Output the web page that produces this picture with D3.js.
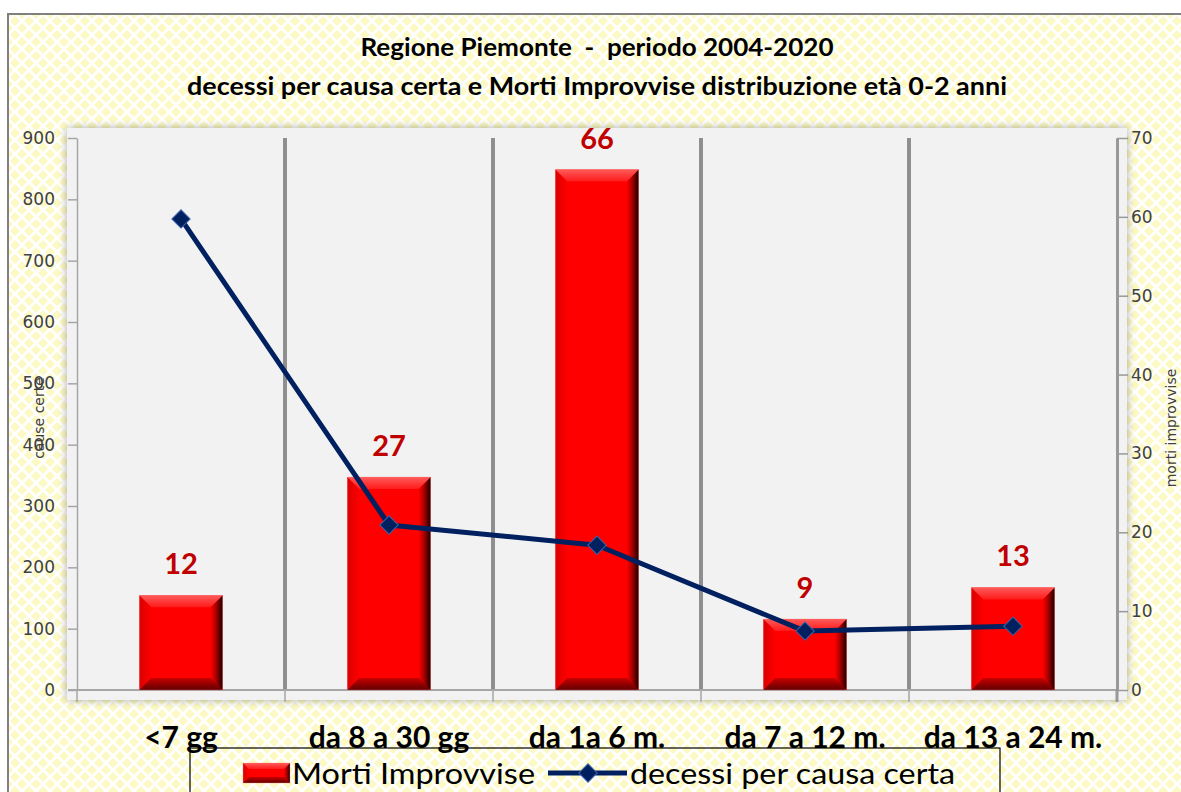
<!DOCTYPE html>
<html>
<head>
<meta charset="utf-8">
<script src="https://cdn.jsdelivr.net/npm/d3@7"></script>
<style>
  body { margin: 0; background: #fff; }
  svg { display: block; }
</style>
</head>
<body>
<svg id="chart" width="1181" height="792"></svg>
<script>
// chart data
const categories = ["<7 gg", "da 8 a 30 gg", "da 1a 6 m.", "da 7 a 12 m.", "da 13 a 24 m."];
const mortiImprovvise = [12, 27, 66, 9, 13];        // bars, right axis
const causaCerta = [768, 269, 236, 96, 104];        // line, left axis
const leftTicks = [0, 100, 200, 300, 400, 500, 600, 700, 800, 900];
const rightTicks = [0, 10, 20, 30, 40, 50, 60, 70];
const titleLines = ["Regione Piemonte  -  periodo 2004-2020",
                    "decessi per causa certa e Morti Improvvise distribuzione età 0-2 anni"];

// measured text widths of the reference (Calibri is narrower than what we have)
const titleWidths = [473, 820];

const svg = d3.select("#chart");
const defs = svg.append("defs");

// yellow diamond background pattern
const pat = defs.append("pattern").attr("id", "dia")
    .attr("width", 14).attr("height", 14)
    .attr("patternUnits", "userSpaceOnUse")
    .attr("x", 8).attr("y", 14);
pat.append("rect").attr("width", 14).attr("height", 14).attr("fill", "#fff");
[[7, 7], [0, 0], [14, 0], [0, 14], [14, 14]].forEach(([cx, cy]) => {
    const r = 5;
    pat.append("polygon")
        .attr("points", `${cx},${cy - r} ${cx + r},${cy} ${cx},${cy + r} ${cx - r},${cy}`)
        .attr("fill", "#fcf9c4");
});

// shadow for the plot area
const shadow = defs.append("filter").attr("id", "shadow")
    .attr("x", "-5%").attr("y", "-5%").attr("width", "110%").attr("height", "110%");
shadow.append("feDropShadow").attr("dx", 0).attr("dy", 0).attr("stdDeviation", 4)
    .attr("flood-color", "#000").attr("flood-opacity", 0.35);

// gradients for bevelled bars
function grad(id, x2, y2, stops) {
    const g = defs.append("linearGradient").attr("id", id)
        .attr("x1", 0).attr("y1", 0).attr("x2", x2).attr("y2", y2);
    stops.forEach(s => g.append("stop").attr("offset", s[0]).attr("stop-color", s[1]));
}
grad("bTop", 0, 1, [[0, "#ff5a5a"], [1, "#ff1a1a"]]);
grad("bBot", 0, 1, [[0, "#c80000"], [1, "#600000"]]);
grad("bRight", 1, 0, [[0, "#ff0000"], [0.5, "#a00000"], [1, "#180000"]]);
grad("bLeft", 1, 0, [[0, "#d80000"], [1, "#ff0000"]]);

// outer chart area
svg.append("rect").attr("x", 8).attr("y", 14).attr("width", 1200).attr("height", 800)
    .attr("fill", "url(#dia)").attr("stroke", "#808080").attr("stroke-width", 2);

// scales
const plotL = 77, plotR = 1117, plotT = 138, plotB = 690;
const x = d3.scaleBand().domain(categories).range([plotL, plotR]).paddingInner(0).paddingOuter(0);
const yLeft = d3.scaleLinear().domain([0, 900]).range([plotB, plotT]);
const yRight = d3.scaleLinear().domain([0, 70]).range([plotB, plotT]);
const barW = x.bandwidth() * 0.4;

// plot area
svg.append("rect").attr("x", plotL - 10).attr("y", plotT - 10)
    .attr("width", plotR - plotL + 20).attr("height", plotB - plotT + 20)
    .attr("fill", "#f2f2f2").attr("filter", "url(#shadow)");

// category separators
svg.append("g").selectAll("line")
    .data(categories.slice(1))
    .join("line")
    .attr("x1", d => x(d)).attr("x2", d => x(d))
    .attr("y1", plotT).attr("y2", plotB)
    .attr("stroke", "#8f8f8f").attr("stroke-width", 4);

// bottom axis line and ticks
svg.append("line").attr("x1", plotL - 9).attr("x2", plotR).attr("y1", plotB).attr("y2", plotB)
    .attr("stroke", "#a6a6a6").attr("stroke-width", 2);
svg.append("g").selectAll("line")
    .data(categories.slice(1))
    .join("line")
    .attr("x1", d => x(d)).attr("x2", d => x(d))
    .attr("y1", plotB).attr("y2", plotB + 12)
    .attr("stroke", "#a6a6a6").attr("stroke-width", 1.5);

// left axis
const gLeft = svg.append("g").attr("transform", `translate(${plotL},0)`)
    .call(d3.axisLeft(yLeft).tickValues(leftTicks).tickSize(9).tickSizeOuter(0).tickPadding(13));
gLeft.select(".domain").attr("stroke", "#a6a6a6").attr("stroke-width", 1.5);
gLeft.selectAll(".tick line").attr("stroke", "#a6a6a6").attr("stroke-width", 1.5);
gLeft.selectAll(".tick text").attr("font-family", "DejaVu Sans").attr("font-size", 17)
    .attr("fill", "#404040");
svg.append("line").attr("x1", plotL).attr("x2", plotL).attr("y1", plotB).attr("y2", plotB + 12)
    .attr("stroke", "#a6a6a6").attr("stroke-width", 1.5);

// right axis
const gRight = svg.append("g").attr("transform", `translate(${plotR},0)`)
    .call(d3.axisRight(yRight).tickValues(rightTicks).tickSize(11).tickSizeOuter(0).tickPadding(3));
gRight.select(".domain").attr("stroke", "#999").attr("stroke-width", 3);
gRight.selectAll(".tick line").attr("stroke", "#999").attr("stroke-width", 1.5);
gRight.selectAll(".tick text").attr("font-family", "DejaVu Sans").attr("font-size", 17)
    .attr("fill", "#404040");
svg.append("line").attr("x1", plotR).attr("x2", plotR).attr("y1", plotB).attr("y2", plotB + 12)
    .attr("stroke", "#999").attr("stroke-width", 3);

// axis titles
svg.append("text").attr("transform", "translate(44,418) rotate(-90)")
    .attr("text-anchor", "middle").attr("font-family", "DejaVu Sans").attr("font-size", 14)
    .attr("fill", "#404040").text("cause certe");
svg.append("text").attr("transform", "translate(1176,428) rotate(-90)")
    .attr("text-anchor", "middle").attr("font-family", "DejaVu Sans").attr("font-size", 14)
    .attr("fill", "#404040").text("morti improvvise");

// bevelled bar drawer
function bevelBar(g, bx, by, bw, bh, b) {
    const xr = bx + bw, yb = by + bh;
    b = Math.min(b, bh / 2, bw / 2);
    g.append("rect").attr("x", bx).attr("y", by).attr("width", bw).attr("height", bh).attr("fill", "#fe0000");
    g.append("polygon").attr("fill", "url(#bLeft)")
        .attr("points", `${bx},${by} ${bx + b},${by + b} ${bx + b},${yb - b} ${bx},${yb}`);
    g.append("polygon").attr("fill", "url(#bRight)")
        .attr("points", `${xr - b},${by + b} ${xr},${by} ${xr},${yb} ${xr - b},${yb - b}`);
    g.append("polygon").attr("fill", "url(#bTop)")
        .attr("points", `${bx},${by} ${xr},${by} ${xr - b},${by + b} ${bx + b},${by + b}`);
    g.append("polygon").attr("fill", "url(#bBot)")
        .attr("points", `${bx + b},${yb - b} ${xr - b},${yb - b} ${xr},${yb} ${bx},${yb}`);
    g.append("rect").attr("x", bx).attr("y", by).attr("width", bw).attr("height", bh)
        .attr("fill", "none").attr("stroke", "#ff8080").attr("stroke-width", 0.6).attr("stroke-opacity", 0.6);
}

// bars
const barsG = svg.append("g");
categories.forEach((c, i) => {
    const v = mortiImprovvise[i];
    const bx = x(c) + (x.bandwidth() - barW) / 2;
    bevelBar(barsG.append("g"), bx, yRight(v), barW, plotB - yRight(v), 12);
});

// bar labels
svg.append("g").selectAll("text")
    .data(categories)
    .join("text")
    .attr("x", d => x(d) + x.bandwidth() / 2)
    .attr("y", (d, i) => yRight(mortiImprovvise[i]) - 21)
    .attr("text-anchor", "middle")
    .attr("font-family", "Lato").attr("font-weight", "bold").attr("font-size", 29)
    .attr("fill", "#c00000")
    .text((d, i) => mortiImprovvise[i]);

// line series
const pts = categories.map((c, i) => [x(c) + x.bandwidth() / 2, yLeft(causaCerta[i])]);
svg.append("path").attr("d", d3.line()(pts))
    .attr("fill", "none").attr("stroke", "#002060").attr("stroke-width", 5)
    .attr("stroke-linejoin", "round");
svg.append("g").selectAll("rect")
    .data(pts)
    .join("rect")
    .attr("x", -6.5).attr("y", -6.5).attr("width", 13).attr("height", 13)
    .attr("transform", d => `translate(${d[0]},${d[1]}) rotate(45)`)
    .attr("fill", "#002060").attr("stroke", "#3d63a8").attr("stroke-width", 1);

// category labels
svg.append("g").selectAll("text")
    .data(categories)
    .join("text")
    .attr("x", d => x(d) + x.bandwidth() / 2)
    .attr("y", 748)
    .attr("text-anchor", "middle")
    .attr("font-family", "Lato").attr("font-weight", "bold").attr("font-size", 30)
    .attr("fill", "#000")
    .text(d => d);

// title
svg.append("g").selectAll("text")
    .data(titleLines)
    .join("text")
    .attr("x", 597)
    .attr("y", (d, i) => 56 + i * 39)
    .attr("text-anchor", "middle")
    .style("white-space", "pre")
    .attr("textLength", (d, i) => titleWidths[i])
    .attr("lengthAdjust", "spacingAndGlyphs")
    .attr("font-family", "Lato").attr("font-weight", "bold").attr("font-size", 25)
    .attr("fill", "#000")
    .text(d => d);

// legend
const lg = svg.append("g");
lg.append("rect").attr("x", 190).attr("y", 748).attr("width", 810).attr("height", 70)
    .attr("fill", "none").attr("stroke", "#000").attr("stroke-width", 1.2);
bevelBar(lg.append("g"), 243, 763, 47, 20, 6);
lg.append("text").attr("x", 292).attr("y", 784)
    .attr("textLength", 243).attr("lengthAdjust", "spacingAndGlyphs")
    .attr("font-family", "Lato").attr("font-size", 28).attr("fill", "#000")
    .text("Morti Improvvise");
lg.append("line").attr("x1", 548).attr("x2", 627).attr("y1", 773).attr("y2", 773)
    .attr("stroke", "#002060").attr("stroke-width", 5);
lg.append("rect").attr("x", -6.5).attr("y", -6.5).attr("width", 13).attr("height", 13)
    .attr("transform", "translate(588,773) rotate(45)")
    .attr("fill", "#002060").attr("stroke", "#3d63a8").attr("stroke-width", 1);
lg.append("text").attr("x", 630).attr("y", 784)
    .attr("textLength", 325).attr("lengthAdjust", "spacingAndGlyphs")
    .attr("font-family", "Lato").attr("font-size", 28).attr("fill", "#000")
    .text("decessi per causa certa");
</script>
</body>
</html>
